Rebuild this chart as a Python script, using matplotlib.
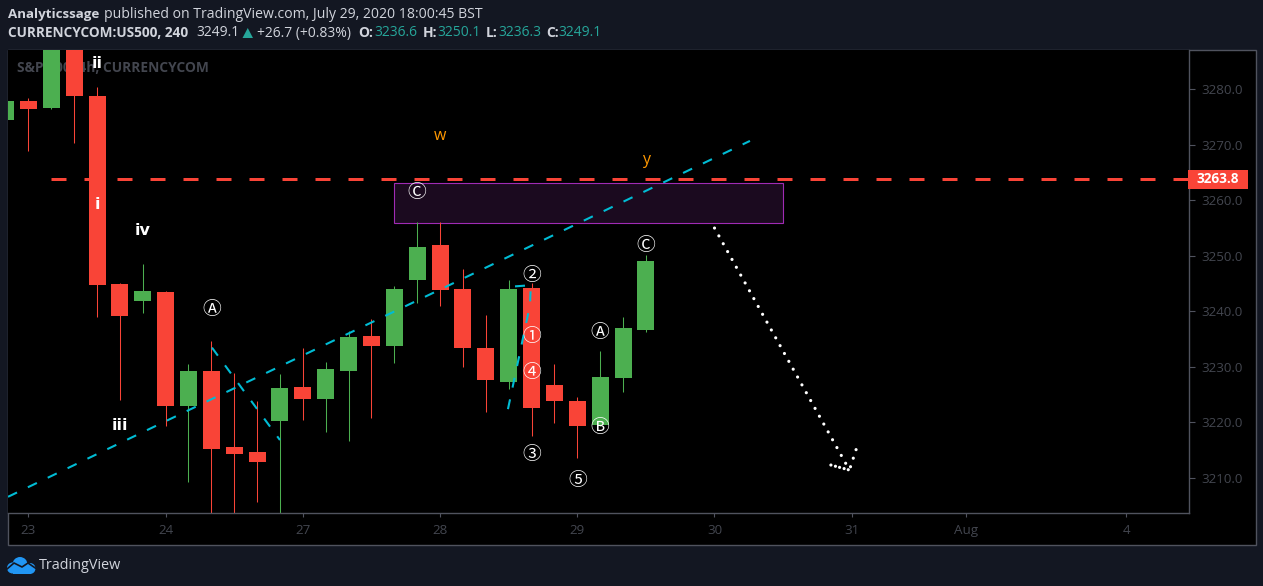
import matplotlib
matplotlib.use("Agg")
import matplotlib.pyplot as plt
import numpy as np
from matplotlib.patches import Rectangle, Circle, Polygon
from matplotlib.transforms import blended_transform_factory

# candles, one every 4h, index 0 is the first bar of Jul 23
bar_idx = list(range(-1, 28))
opens = [3274.5,3277.9,3276.7,3290.7,3278.8,3244.9,3241.9,3243.5,3223.0,3229.2,3215.6,3214.6,3220.3,3226.4,3224.2,
         3229.3,3235.6,3233.8,3245.7,3251.9,3244.0,3233.4,3227.3,3244.2,3226.7,3223.8,3219.5,3228.0,3236.6]
highs = [3277.9,3278.4,3290.7,3291.0,3280.5,3245.1,3248.5,3243.7,3230.5,3234.6,3228.9,3223.8,3228.7,3233.4,3230.9,
         3236.5,3238.6,3244.6,3256.1,3256.1,3247.6,3239.3,3245.6,3245.1,3230.5,3224.6,3232.8,3239.0,3250.1]
lows = [3274.5,3268.8,3276.5,3270.4,3239.0,3224.1,3239.7,3219.4,3209.3,3203.0,3203.0,3205.7,3203.0,3220.5,3218.3,
        3216.7,3220.8,3230.7,3241.5,3241.0,3230.0,3221.9,3226.0,3217.6,3219.8,3213.6,3219.3,3225.5,3236.3]
closes = [3277.9,3276.5,3290.7,3278.8,3244.8,3239.2,3243.7,3223.0,3229.2,3215.1,3214.3,3212.9,3226.2,3224.2,3229.6,
          3235.4,3233.8,3244.0,3251.6,3243.9,3233.3,3227.7,3244.0,3222.5,3223.9,3219.4,3228.2,3237.0,3249.1]

x_ticks = [0, 6, 12, 18, 24, 30, 36, 41, 48]
x_labels = ["23", "24", "27", "28", "29", "30", "31", "Aug", "4"]
y_ticks = [3210, 3220, 3230, 3240, 3250, 3260, 3270, 3280]

level = 3263.8
box_x = [16, 33]
box_y = [3256.0, 3263.2]

trend_x = [-0.93, 31.55]
trend_y = [3206.5, 3270.7]
drop_x = [8, 11]
drop_y = [3233.6, 3216.8]
zig_x = [20.96, 21.93, 21.97, 20.97]
zig_y = [3222.2, 3241.1, 3244.7, 3244.4]
dots_x = [30, 35.9, 35, 35.9, 36.2]
dots_y = [3255.0, 3211.4, 3212.4, 3211.4, 3215.2]

circled = ["Ⓐ", "Ⓒ", "Ⓒ", "②", "①", "④", "③", "⑤", "Ⓐ", "Ⓑ"]
circled_x = [8, 17, 27, 22, 22, 22, 22, 24, 25, 25]
circled_y = [3240.3, 3261.4, 3251.9, 3246.4, 3235.4, 3229.0, 3214.2, 3209.5, 3236.2, 3219.1]
romans = ["ii", "iv", "i", "iii"]
romans_x = [3, 5, 3, 4]
romans_y = [3284.6, 3254.6, 3259.2, 3219.5]
waves = ["w", "y"]
waves_x = [18, 27]
waves_y = [3271.6, 3267.3]

BG = "#131722"
RED = "#f94437"
GREEN = "#4caf50"
CYAN = "#00bcd4"
BORDER = "#50535e"
DIM = "#43464f"
TEAL = "#26a69a"
LIGHT = "#d1d4dc"
FONT = "Open Sans"

plt.rcParams["font.family"] = [FONT, "DejaVu Sans"]

W, H = 1263, 586
fig = plt.figure(figsize=(W / 100, H / 100), dpi=100, facecolor=BG)

# overlay in pixels for header, footer and frame
bg = fig.add_axes([0, 0, 1, 1], zorder=0)
bg.set_xlim(0, W)
bg.set_ylim(H, 0)
bg.axis("off")
bg.add_patch(Rectangle((7.5, 49.5), 1248, 495, fc="black", ec=BORDER, lw=1))

# main chart, 22.87 px per bar and 5.55 px per point
left, right, top, bottom = 7.5, 1188.5, 49.5, 512.5
ax = fig.add_axes([left / W, 1 - bottom / H, (right - left) / W, (bottom - top) / H], zorder=1)
ax.set_facecolor("black")
ax.set_xlim((left - 28.4) / 22.87, (right - 28.4) / 22.87)
ax.set_ylim(3260 + (200.3 - bottom) / 5.55, 3260 + (200.3 - top) / 5.55)

colors = [GREEN if c >= o else RED for o, c in zip(opens, closes)]
o = np.array(opens)
c = np.array(closes)
ax.vlines(bar_idx, lows, highs, colors=colors, lw=0.75, zorder=2)
ax.bar(bar_idx, np.abs(c - o), bottom=np.minimum(o, c), width=17 / 22.87, color=colors, lw=0, zorder=2)

ax.add_patch(Rectangle((box_x[0], box_y[0]), box_x[1] - box_x[0], box_y[1] - box_y[0],
                       fc="#1b0a1f", ec="#a02bb4", lw=0.8, zorder=1.5))
ax.plot([1, 60], [level, level], color=RED, lw=2.16, ls=(0, (5, 6)), dash_capstyle="butt", zorder=3)
for lx, ly in [(trend_x, trend_y), (drop_x, drop_y), (zig_x, zig_y)]:
    ax.plot(lx, ly, color=CYAN, lw=1.5, ls=(10.1, (4.8, 5.77)), dash_capstyle="butt", zorder=3)
ax.plot(dots_x, dots_y, color="white", lw=2.3, ls=(0, (0.01, 2.8)), dash_capstyle="round", zorder=3)

for t, x, y in zip(circled, circled_x, circled_y):
    ax.text(x, y, t, color="white", fontsize=13.5, ha="center", va="center",
            family=["Noto Sans CJK JP", "DejaVu Sans"], zorder=5)
for t, x, y in zip(romans, romans_x, romans_y):
    ax.text(x, y, t, color="white", fontsize=11.5, fontweight="bold", ha="center", va="center",
            family="DejaVu Sans", zorder=5)
for t, x, y in zip(waves, waves_x, waves_y):
    ax.text(x, y, t, color="#ff9800", fontsize=11.5, ha="center", va="center", zorder=5)

ax.text((17 - left) / (right - left), 1 - (68 - top) / (bottom - top), "S&P 500, 4h, CURRENCYCOM",
        transform=ax.transAxes, color=DIM, fontsize=9.9, fontweight="bold", va="center", zorder=1)

ax.set_xticks(x_ticks, x_labels)
ax.yaxis.tick_right()
ax.set_yticks(y_ticks, [f"{v:.1f}" for v in y_ticks])
ax.tick_params(axis="x", colors=BORDER, labelcolor=DIM, length=3, width=0.8, labelsize=9.6, pad=5)
ax.tick_params(axis="y", colors=BORDER, labelcolor=DIM, length=4, width=0.8, labelsize=9.6, pad=5)
for s in ["left", "top"]:
    ax.spines[s].set_visible(False)
for s in ["right", "bottom"]:
    ax.spines[s].set_color(BORDER)
    ax.spines[s].set_linewidth(1)

# price tag on the right axis
tag = fig.add_axes(ax.get_position(), zorder=2)
tag.axis("off")
tag.set_ylim(ax.get_ylim())
tr = blended_transform_factory(bg.transData, tag.transData)
tag.add_patch(Rectangle((1188, level - 1.68), 59.5, 3.36, transform=tr, fc=RED, ec="none", clip_on=False))
tag.text(1217.5, level, f"{level:.1f}", transform=tr, color="white", fontsize=9.8, fontweight="bold",
         ha="center", va="center", clip_on=False)


def head(x, y, s, color=LIGHT, bold=False, size=10):
    bg.text(x, y, s, color=color, fontsize=size, fontweight="bold" if bold else "normal", va="center", ha="left")


head(7.5, 14.5, "Analyticssage", bold=True, size=9.6)
head(103.5, 14.5, "published on TradingView.com, July 29, 2020 18:00:45 BST", size=10.1)
head(7.5, 33, "CURRENCYCOM:US500, 240", bold=True, size=9.8)
head(196, 33, "3249.1")
bg.add_patch(Polygon([(242.5, 38), (253, 38), (247.75, 28)], fc=TEAL, ec="none"))
head(257, 33, "+26.7 (+0.83%)")
head(358, 33, "O:", bold=True)
head(374, 33, "3236.6", color=TEAL)
head(422.5, 33, "H:", bold=True)
head(437.5, 33, "3250.1", color=TEAL)
head(486, 33, "L:", bold=True)
head(498, 33, "3236.3", color=TEAL)
head(546, 33, "C:", bold=True)
head(558.5, 33, "3249.1", color=TEAL)

# footer logo
LOGO = "#2196f3"
for cx, cy, r in [(20, 564.5, 7.5), (12.5, 568, 5.5), (30, 568.5, 5.5)]:
    bg.add_patch(Circle((cx, cy), r, fc=LOGO, ec="none"))
bg.add_patch(Rectangle((12.5, 566), 18, 7.5, fc=LOGO, ec="none"))
bg.plot([7, 14, 22, 28, 36], [569, 563, 567, 563, 568.5], color=BG, lw=1.2)
head(38.5, 565.5, "TradingView", size=10.4)

fig.savefig("out.png", dpi=100, facecolor=BG)
